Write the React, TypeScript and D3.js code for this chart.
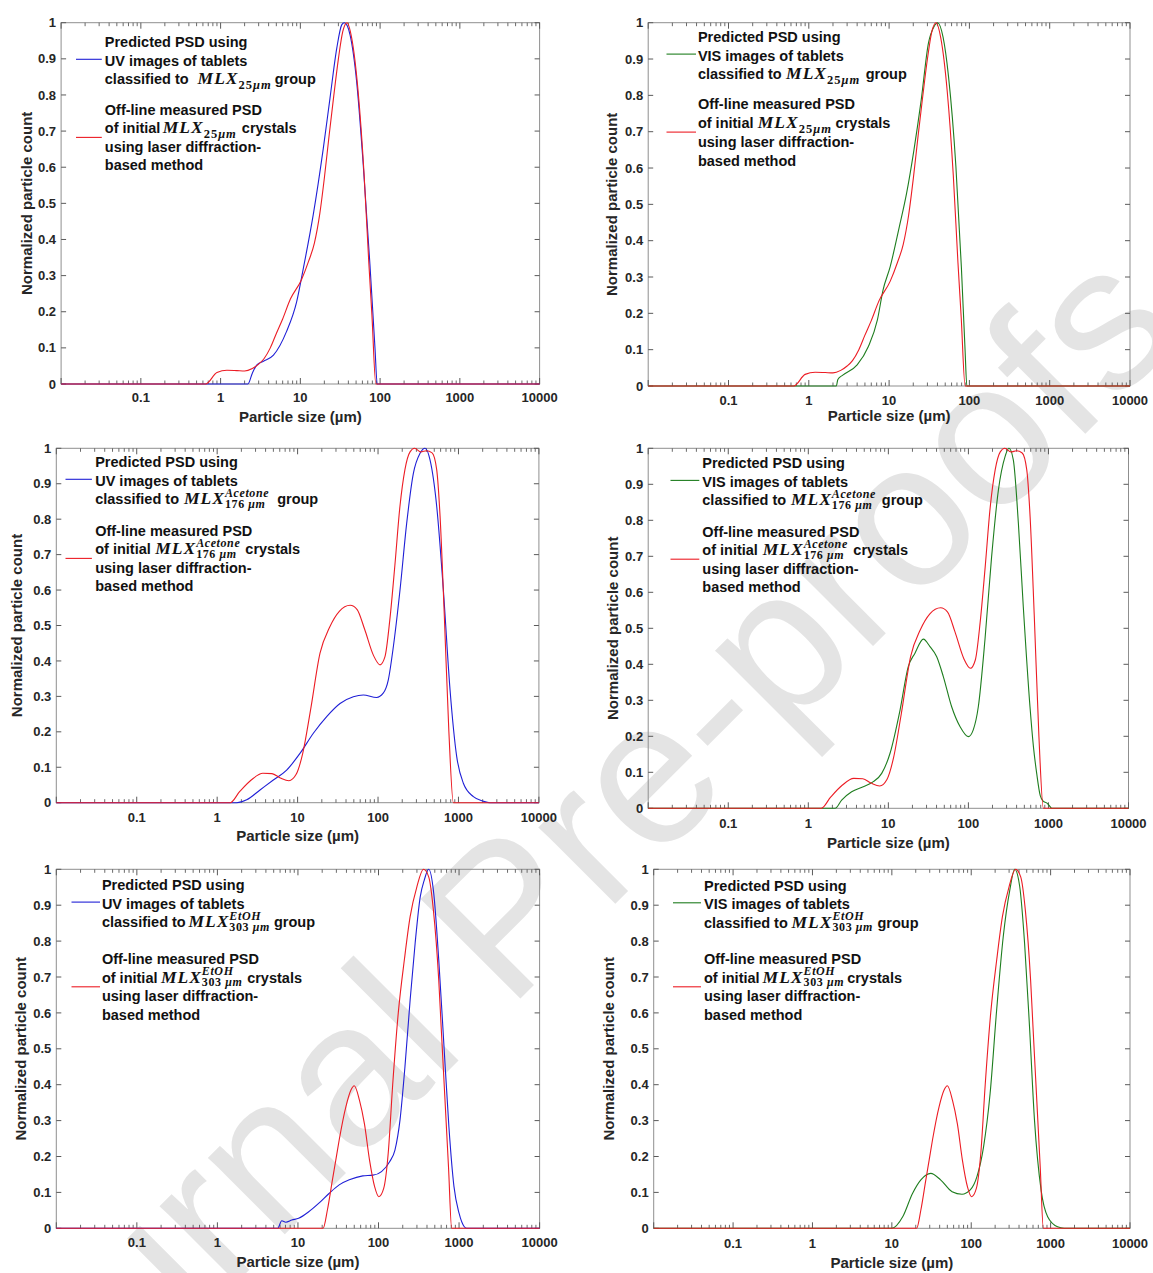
import React, { useEffect, useRef } from 'react';
import * as d3 from 'd3';

// ---------------- tick labels ----------------
const xTickValues = [0.1, 1, 10, 100, 1000, 10000];
const xTickLabels = ['0.1', '1', '10', '100', '1000', '10000'];
const yTickValues = [0, 0.1, 0.2, 0.3, 0.4, 0.5, 0.6, 0.7, 0.8, 0.9, 1];
const yTickLabels = ['0', '0.1', '0.2', '0.3', '0.4', '0.5', '0.6', '0.7', '0.8', '0.9', '1'];

// ---------------- series (particle size in µm, normalized count) ----------------
// MLX 25 µm : predicted from UV images
const uv25Size = [0.01, 2.2, 2.5, 2.85, 3.45, 4.6, 6.7, 9.0, 10.9, 14.5, 19.4, 23.5, 28.6, 33, 35.5, 39, 42, 50.8, 61.5, 74.6, 86.3, 92, 10000];
const uv25Count = [0, 0, 0.03, 0.053, 0.063, 0.08, 0.145, 0.228, 0.32, 0.468, 0.652, 0.79, 0.929, 0.994, 1.0, 0.99, 0.966, 0.837, 0.606, 0.33, 0.099, 0, 0];
// MLX 25 µm : predicted from VIS images
const vis25Size = [0.01, 2.2, 2.3, 2.65, 4.0, 5.5, 7.15, 8.4, 10.3, 13.4, 16.5, 20.4, 25.1, 30.9, 36.2, 40.3, 47, 55, 67.9, 79.4, 88.3, 93, 10000];
const vis25Count = [0, 0, 0.018, 0.03, 0.058, 0.108, 0.182, 0.264, 0.328, 0.438, 0.53, 0.65, 0.787, 0.944, 0.989, 1.0, 0.96, 0.851, 0.604, 0.328, 0.1, 0, 0];
// MLX 25 µm : off-line laser diffraction
const lab25Size = [0.01, 0.65, 0.9, 1.2, 1.6, 2.0, 2.5, 3.0, 3.5, 4.2, 5.0, 6.0, 7.5, 10.3, 12.7, 15, 17.5, 20, 23, 26, 30, 34, 38.5, 44, 53, 63, 72, 79, 88.5, 10000];
const lab25Count = [0, 0, 0.032, 0.038, 0.037, 0.036, 0.043, 0.055, 0.07, 0.1, 0.14, 0.18, 0.235, 0.288, 0.34, 0.39, 0.47, 0.57, 0.69, 0.79, 0.9, 0.975, 1.0, 0.958, 0.81, 0.58, 0.34, 0.19, 0, 0];

// MLX Acetone 176 µm : predicted from UV images
const uvAceSize = [0.01, 1.75, 2.33, 3.41, 4.99, 7.31, 10.7, 15.7, 23, 33.7, 49.3, 65.6, 96, 116, 134, 155, 187.6, 227, 275, 333, 384, 443, 537, 649, 786, 951, 1150, 1532, 2040, 2466, 10000];
const uvAceCount = [0, 0, 0.008, 0.036, 0.064, 0.092, 0.139, 0.196, 0.243, 0.28, 0.299, 0.304, 0.297, 0.309, 0.346, 0.44, 0.6, 0.788, 0.929, 0.986, 1.0, 0.967, 0.835, 0.6, 0.318, 0.13, 0.055, 0.017, 0.004, 0, 0];
// MLX Acetone 176 µm : predicted from VIS images
const visAceSize = [0.01, 2.16, 2.61, 3.48, 4.86, 6.49, 8.26, 10.5, 14, 17.7, 21.5, 27.4, 33.1, 40.2, 48.6, 61.8, 78.5, 99.8, 115, 133, 161, 195, 237, 287, 321, 364, 421, 485, 588, 650, 713, 790, 860, 950, 1020, 1100, 10000];
const visAceCount = [0, 0, 0.023, 0.046, 0.06, 0.074, 0.097, 0.153, 0.273, 0.393, 0.431, 0.47, 0.449, 0.421, 0.366, 0.282, 0.227, 0.199, 0.218, 0.282, 0.468, 0.699, 0.884, 0.977, 1.0, 0.968, 0.792, 0.56, 0.282, 0.17, 0.097, 0.035, 0.02, 0.015, 0.008, 0, 0];
// MLX Acetone 176 µm : off-line laser diffraction
const labAceSize = [0.01, 1.45, 1.9, 2.65, 3.7, 4.8, 6.1, 7.8, 9.6, 11.6, 14.5, 19, 25, 33, 45, 55, 68, 88, 106, 122, 140, 162, 187, 216, 250, 285, 340, 400, 470, 536, 590, 665, 760, 864, 10000];
const labAceCount = [0, 0, 0.031, 0.064, 0.083, 0.082, 0.07, 0.062, 0.08, 0.14, 0.262, 0.422, 0.495, 0.54, 0.557, 0.545, 0.49, 0.415, 0.389, 0.412, 0.515, 0.67, 0.835, 0.94, 0.99, 1.0, 0.99, 0.993, 0.987, 0.94, 0.81, 0.535, 0.2, 0, 0];

// MLX EtOH 303 µm : predicted from UV images
const uvEtSize = [0.01, 5.6, 6.3, 7.06, 8.4, 10.2, 13.6, 18.2, 24.3, 32.5, 43.4, 63.8, 85.3, 109, 138, 160, 185, 213, 247, 285, 330, 370, 420, 485, 560, 647, 748, 865, 1000, 1156, 1250, 10000];
const uvEtCount = [0, 0, 0.021, 0.017, 0.023, 0.028, 0.046, 0.07, 0.097, 0.121, 0.135, 0.146, 0.148, 0.158, 0.186, 0.218, 0.302, 0.45, 0.636, 0.794, 0.924, 0.97, 1.0, 0.933, 0.747, 0.515, 0.283, 0.116, 0.042, 0.005, 0, 0];
// MLX EtOH 303 µm : predicted from VIS images
const visEtSize = [0.01, 10, 13.7, 18.2, 23.2, 30.9, 41.1, 57.4, 76.5, 97.2, 118, 143, 173, 209, 253, 306, 353, 408, 470, 542, 626, 758, 918, 1222, 1479, 10000];
const visEtCount = [0, 0, 0.032, 0.097, 0.135, 0.153, 0.135, 0.102, 0.095, 0.107, 0.144, 0.227, 0.376, 0.608, 0.812, 0.942, 1.0, 0.952, 0.794, 0.562, 0.302, 0.107, 0.032, 0.004, 0, 0];
// MLX EtOH 303 µm : off-line laser diffraction
const labEtSize = [0.01, 20.5, 23.2, 26.8, 29.5, 32.5, 39.4, 45.5, 50, 58, 67, 77.4, 89.5, 101, 116, 132, 150, 176, 210, 247, 300, 362, 420, 480, 560, 600, 647, 740, 810, 10000];
const labEtCount = [0, 0, 0.051, 0.135, 0.19, 0.246, 0.339, 0.385, 0.397, 0.357, 0.29, 0.19, 0.116, 0.088, 0.111, 0.209, 0.4, 0.6, 0.75, 0.868, 0.952, 1.0, 0.979, 0.887, 0.69, 0.56, 0.42, 0.17, 0, 0];

// ---------------- labels ----------------
const yAxisTitle = 'Normalized particle count';
const xAxisTitle = 'Particle size (\u00B5m)';
const watermarkText = 'Journal Pre-proofs';
const mlx25 = { base: 'MLX', sub: '25\u03BCm' };
const mlxAcetone = { base: 'MLX', sup: 'Acetone', sub: '176 \u03BCm' };
const mlxEtOH = { base: 'MLX', sup: 'EtOH', sub: '303 \u03BCm' };

// ---------------- styles ----------------
const SANS = '"Liberation Sans", Arial, Helvetica, sans-serif';
const SERIF = '"Liberation Serif", "Times New Roman", serif';
const BLUE = '#1f1fd6';
const RED = '#ec1c24';
const GREEN = '#1e7d1e';

// ---------------- panel layout ----------------
const panels = [
  { left: 61.1, right: 539.6, top: 22.7, bottom: 384, yLabelX: 26, xLabelY: 421.7, tickY: 402,
    legX1: 76, legX2: 101.8, legTextX: 104.8, legY1: 47.3, legY2: 115, lh: 18.4,
    pred: [uv25Size, uv25Count], predColor: BLUE, src: 'UV', lab: [lab25Size, lab25Count],
    math: mlx25, gaps: [9, 3, 2.3, 5] },
  { left: 648.2, right: 1130, top: 22.7, bottom: 386, yLabelX: 611, xLabelY: 420.7, tickY: 405,
    legX1: 666.5, legX2: 696, legTextX: 697.9, legY1: 41.7, legY2: 109.3, lh: 18.8,
    pred: [vis25Size, vis25Count], predColor: GREEN, src: 'VIS', lab: [lab25Size, lab25Count],
    math: mlx25, gaps: [4.4, 5.5, 4.3, 3.7] },
  { left: 56.3, right: 538.9, top: 448.3, bottom: 802.7, yLabelX: 16.7, xLabelY: 840.7, tickY: 821.7,
    legX1: 65.5, legX2: 91.9, legTextX: 95.2, legY1: 467.3, legY2: 536, lh: 18.4,
    pred: [uvAceSize, uvAceCount], predColor: BLUE, src: 'UV', lab: [labAceSize, labAceCount],
    math: mlxAcetone, gaps: [5, 8, 4.4, 5] },
  { left: 648.2, right: 1128.5, top: 448.3, bottom: 808.3, yLabelX: 612, xLabelY: 848.3, tickY: 828.3,
    legX1: 670.5, legX2: 699.3, legTextX: 702.3, legY1: 468.3, legY2: 536.7, lh: 18.5,
    pred: [visAceSize, visAceCount], predColor: GREEN, src: 'VIS', lab: [labAceSize, labAceCount],
    math: mlxAcetone, gaps: [4.8, 5.8, 4.8, 5.5] },
  { left: 56.3, right: 539.6, top: 869.3, bottom: 1228.3, yLabelX: 20.4, xLabelY: 1266.7, tickY: 1246.7,
    legX1: 71.5, legX2: 100, legTextX: 101.9, legY1: 890, legY2: 964.3, lh: 18.5,
    pred: [uvEtSize, uvEtCount], predColor: BLUE, src: 'UV', lab: [labEtSize, labEtCount],
    math: mlxEtOH, gaps: [2.7, 4, 3.4, 4.7] },
  { left: 653.7, right: 1130, top: 869.3, bottom: 1228.3, yLabelX: 608.5, xLabelY: 1268.3, tickY: 1248.3,
    legX1: 673, legX2: 701, legTextX: 704, legY1: 890.7, legY2: 964.3, lh: 18.5,
    pred: [visEtSize, visEtCount], predColor: GREEN, src: 'VIS', lab: [labEtSize, labEtCount],
    math: mlxEtOH, gaps: [3.7, 4.4, 3, 3] },
];

const tlen = (sel: any) => (sel.node() as SVGTextContentElement).getComputedTextLength();

// a script (sub/superscript) tspan: digits upright, letters italic
function addScript(t: any, x: number, y: number, s: string, size: number, ls: number) {
  const ts = t.append('tspan').attr('x', x).attr('y', y)
    .attr('font-family', SERIF).attr('font-weight', 'bold').attr('font-size', size)
    .attr('letter-spacing', ls);
  s.split(/(\d+)/).filter((q) => q.length > 0).forEach((part) => {
    ts.append('tspan').attr('font-style', /^\d+$/.test(part) ? 'normal' : 'italic').text(part);
  });
  return tlen(ts);
}

function addMath(t: any, x: number, by: number, m: any) {
  const base = t.append('tspan').attr('x', x).attr('y', by)
    .attr('font-family', SERIF).attr('font-style', 'italic').attr('font-weight', 'bold')
    .attr('font-size', 17.5).attr('letter-spacing', 1).text(m.base);
  const bw = tlen(base);
  const sx = x + bw;
  let w2 = 0;
  if (m.sup) {
    const a = addScript(t, sx, by - 7.5, m.sup, 12, 0.6);
    const b = addScript(t, sx, by + 3.5, m.sub, 12, 0.6);
    w2 = Math.max(a, b);
  } else {
    w2 = addScript(t, sx, by + 5, m.sub, 12.5, 1);
  }
  return bw + w2;
}

function drawLegend(g: any, p: any) {
  const [g1, g2, g3, g4] = p.gaps;
  const entries = [
    { color: p.predColor, y0: p.legY1, sampleY: p.legY1 + p.lh - 6.4,
      lines: [['Predicted PSD using'], [p.src + ' images of tablets'], ['classified to', { math: p.math, pre: g1, post: g2 }, 'group']] },
    { color: RED, y0: p.legY2, sampleY: p.legY2 + p.lh + 4,
      lines: [['Off-line measured PSD'], ['of initial', { math: p.math, pre: g3, post: g4 }, 'crystals'], ['using laser diffraction-'], ['based method']] },
  ];
  entries.forEach((e) => {
    g.append('line').attr('x1', p.legX1).attr('x2', p.legX2).attr('y1', e.sampleY).attr('y2', e.sampleY)
      .attr('stroke', e.color).attr('stroke-width', 1.1);
    e.lines.forEach((segs: any[], i: number) => {
      const by = e.y0 + i * p.lh;
      const t = g.append('text').attr('font-family', SANS).attr('font-weight', 'bold')
        .attr('font-size', 14.5).attr('fill', '#111');
      let cx = p.legTextX;
      segs.forEach((seg) => {
        if (typeof seg === 'string') {
          const ts = t.append('tspan').attr('x', cx).attr('y', by).text(seg);
          cx += tlen(ts);
        } else {
          cx += seg.pre;
          cx += addMath(t, cx, by, seg.math);
          cx += seg.post;
        }
      });
    });
  });
}

function drawPanel(root: any, p: any) {
  const g = root.append('g');
  const x = d3.scaleLog().domain([0.01, 10000]).range([p.left, p.right]);
  const y = d3.scaleLinear().domain([0, 1]).range([p.bottom, p.top]);
  const tickColor = '#5a5a5a';

  // box
  g.append('rect').attr('x', p.left).attr('y', p.top)
    .attr('width', p.right - p.left).attr('height', p.bottom - p.top)
    .attr('fill', 'none').attr('stroke', '#8f8f8f').attr('stroke-width', 1);

  // y ticks (left + right, inward)
  yTickValues.forEach((v) => {
    g.append('line').attr('x1', p.left).attr('x2', p.left + 5).attr('y1', y(v)).attr('y2', y(v))
      .attr('stroke', tickColor).attr('stroke-width', 1);
    g.append('line').attr('x1', p.right).attr('x2', p.right - 5).attr('y1', y(v)).attr('y2', y(v))
      .attr('stroke', tickColor).attr('stroke-width', 1);
  });
  // x ticks (bottom + top, inward), decade majors + log minors
  const isMajor = (v: number) => Math.abs(Math.log10(v) - Math.round(Math.log10(v))) < 1e-9;
  x.ticks().forEach((v: number) => {
    const len = isMajor(v) ? 6 : 3.5;
    const sw = isMajor(v) ? 1 : 0.9;
    g.append('line').attr('x1', x(v)).attr('x2', x(v)).attr('y1', p.bottom).attr('y2', p.bottom - len)
      .attr('stroke', tickColor).attr('stroke-width', sw);
    g.append('line').attr('x1', x(v)).attr('x2', x(v)).attr('y1', p.top).attr('y2', p.top + len)
      .attr('stroke', tickColor).attr('stroke-width', sw);
  });

  // tick labels
  yTickValues.forEach((v, i) => {
    g.append('text').attr('x', p.left - 5).attr('y', y(v) + 4.6).attr('text-anchor', 'end')
      .attr('font-family', SANS).attr('font-weight', 'bold').attr('font-size', 13)
      .attr('fill', '#262626').text(yTickLabels[i]);
  });
  xTickValues.forEach((v, i) => {
    g.append('text').attr('x', x(v)).attr('y', p.tickY).attr('text-anchor', 'middle')
      .attr('font-family', SANS).attr('font-weight', 'bold').attr('font-size', 13)
      .attr('fill', '#262626').text(xTickLabels[i]);
  });

  // axis titles
  g.append('text').attr('x', (p.left + p.right) / 2).attr('y', p.xLabelY).attr('text-anchor', 'middle')
    .attr('font-family', SANS).attr('font-weight', 'bold').attr('font-size', 15)
    .attr('fill', '#262626').text(xAxisTitle);
  g.append('text')
    .attr('transform', `translate(${p.yLabelX},${(p.top + p.bottom) / 2}) rotate(-90)`)
    .attr('text-anchor', 'middle').attr('dominant-baseline', 'central')
    .attr('font-family', SANS).attr('font-weight', 'bold').attr('font-size', 15)
    .attr('fill', '#262626').text(yAxisTitle);

  // curves
  const line = d3.line<[number, number]>()
    .x((d) => x(d[0])).y((d) => y(d[1])).curve(d3.curveMonotoneX);
  g.append('path').attr('d', line(d3.zip(p.pred[0], p.pred[1]) as any))
    .attr('fill', 'none').attr('stroke', p.predColor).attr('stroke-width', 1.1);
  g.append('path').attr('d', line(d3.zip(p.lab[0], p.lab[1]) as any))
    .attr('fill', 'none').attr('stroke', RED).attr('stroke-width', 1.1);

  drawLegend(g, p);
}

export default function App() {
  const ref = useRef<SVGSVGElement>(null);
  useEffect(() => {
    const svg = d3.select(ref.current);
    svg.selectAll('*').remove();
    svg.append('rect').attr('width', 1153).attr('height', 1273).attr('fill', '#fff');
    svg.append('text').attr('transform', 'translate(589,930) rotate(-45)')
      .attr('text-anchor', 'middle').attr('font-family', SANS).attr('font-size', 205)
      .attr('fill', '#e4e4e4').text(watermarkText);
    panels.forEach((p) => drawPanel(svg, p));
  }, []);
  return (
    <svg ref={ref} width={1153} height={1273}
      style={{ position: 'absolute', left: 0, top: 0, display: 'block' }} />
  );
}
